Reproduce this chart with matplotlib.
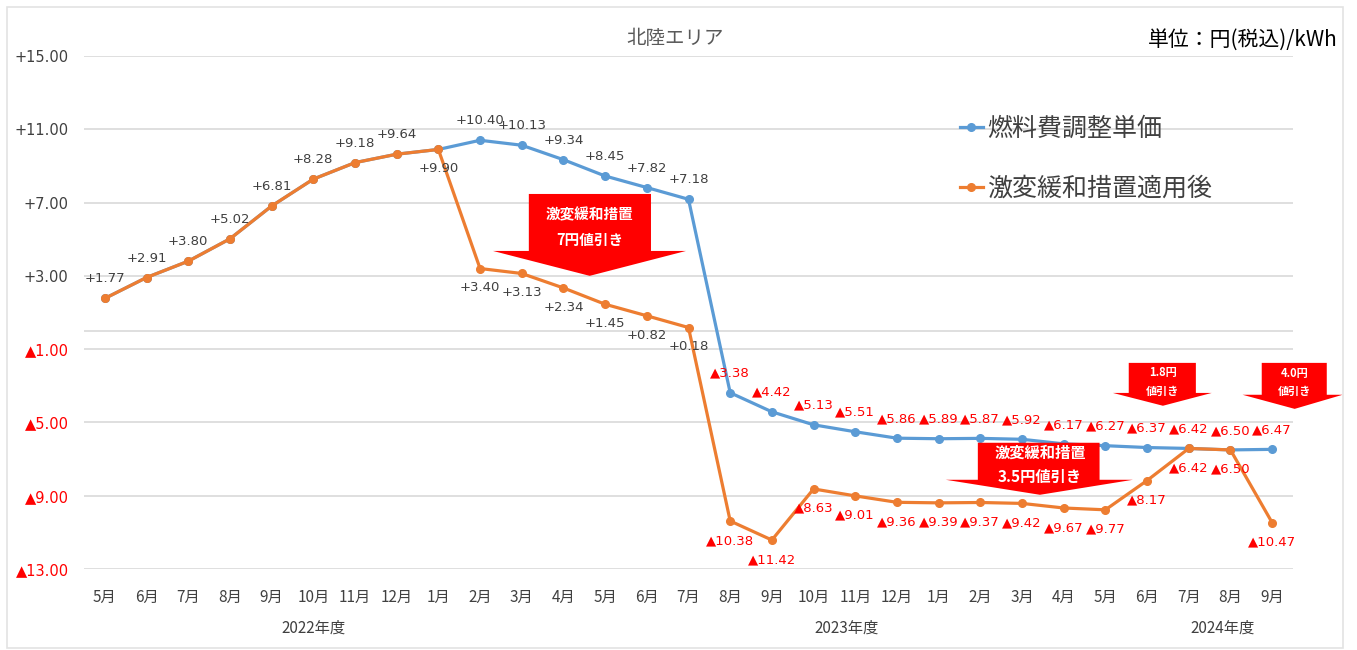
# -*- coding: utf-8 -*-

import numpy as np
import matplotlib
matplotlib.use('Agg')
import matplotlib.pyplot as plt
from matplotlib.patches import Polygon, Rectangle
from matplotlib.transforms import blended_transform_factory

plt.rcParams['font.family'] = ['Noto Sans CJK JP', 'DejaVu Sans']

# --- data --- #

months = ['5月', '6月', '7月', '8月', '9月', '10月', '11月', '12月', '1月', '2月', '3月',
          '4月', '5月', '6月', '7月', '8月', '9月', '10月', '11月', '12月', '1月', '2月', '3月',
          '4月', '5月', '6月', '7月', '8月', '9月']

fuel = [1.77, 2.91, 3.80, 5.02, 6.81, 8.28, 9.18, 9.64, 9.90, 10.40, 10.13,
        9.34, 8.45, 7.82, 7.18, -3.38, -4.42, -5.13, -5.51, -5.86, -5.89, -5.87, -5.92,
        -6.17, -6.27, -6.37, -6.42, -6.50, -6.47]

relief = [1.77, 2.91, 3.80, 5.02, 6.81, 8.28, 9.18, 9.64, 9.90, 3.40, 3.13,
          2.34, 1.45, 0.82, 0.18, -10.38, -11.42, -8.63, -9.01, -9.36, -9.39, -9.37, -9.42,
          -9.67, -9.77, -8.17, -6.42, -6.50, -10.47]

yticks = [15, 11, 7, 3, -1, -5, -9, -13]

years = ['2022年度', '2023年度', '2024年度']
year_pos = [5.0, 17.8, 26.8]

BLUE = '#5B9BD5'
ORANGE = '#ED7D31'
RED = '#FF0000'
GRAY = '#404040'
GRID = '#D9D9D9'
NUMFONT = ['DejaVu Sans']


def fmt(v):
    if v >= 0:
        return '+%.2f' % v
    return '▲%.2f' % abs(v)


def col(v):
    return GRAY if v >= 0 else RED


# --- plotting --- #

fig = plt.figure(figsize=(13.57, 6.5), dpi=100)
W, H = 1357.0, 650.0
ax = fig.add_axes([84 / W, 1 - 569 / H, (1293 - 84) / W, (569 - 56) / H])

x = np.arange(len(months))

ax.plot(x, fuel, color=BLUE, lw=2.3, marker='o', ms=5.5, label='燃料費調整単価', zorder=3)
ax.plot(x, relief, color=ORANGE, lw=2.3, marker='o', ms=5.5, label='激変緩和措置適用後', zorder=4)

# data labels
for i, v in enumerate(fuel):
    if i >= 9:
        ax.annotate(fmt(v), (i, v), xytext=(0, 14), textcoords='offset points',
                    ha='center', va='center', fontsize=9.5, color=col(v), zorder=6,
                    family=NUMFONT)
for i, v in enumerate(relief):
    dy = 14 if i < 8 else -14
    ax.annotate(fmt(v), (i, v), xytext=(0, dy), textcoords='offset points',
                ha='center', va='center', fontsize=9.5, color=col(v), zorder=6,
                family=NUMFONT)

ax.set_xlim(-0.5, len(months) - 0.5)
ax.set_ylim(-13, 15)
ax.set_yticks(yticks)
ax.set_yticklabels([fmt(t) for t in yticks], fontsize=10.5, family=NUMFONT)
for lab, t in zip(ax.get_yticklabels(), yticks):
    lab.set_color(col(t))
ax.set_xticks(x)
ax.set_xticklabels(months, fontsize=11, color=GRAY)
ax.tick_params(axis='both', length=0)
ax.tick_params(axis='y', pad=11)
ax.tick_params(axis='x', pad=14)

ax.grid(True, axis='y', color=GRID, lw=1.2)
ax.axhline(0, color=GRID, lw=1.2, zorder=1)
ax.set_axisbelow(True)
for s in ax.spines.values():
    s.set_visible(False)

# year labels
trans = blended_transform_factory(ax.transData, fig.transFigure)
for yl, xp in zip(years, year_pos):
    ax.text(xp, 1 - 628 / H, yl, transform=trans, ha='center', va='center',
            fontsize=11, color=GRAY)


# discount arrows
def red_arrow(bx0, bx1, hx0, hx1, tx, top, base, tip, lines, ty, fs):
    pts = [(bx0, top), (bx1, top), (bx1, base), (hx1, base), (tx, tip), (hx0, base), (bx0, base)]
    ax.add_patch(Polygon(pts, closed=True, facecolor=RED, edgecolor='none', zorder=5, clip_on=False))
    for txt, yy in zip(lines, ty):
        ax.text(tx, yy, txt, ha='center', va='center', color='white', fontsize=fs,
                fontweight='bold', zorder=7, clip_on=False)


red_arrow(10.17, 13.10, 9.31, 13.94, 11.63, 7.47, 4.36, 3.0,
          ['激変緩和措置', '7円値引き'], [6.33, 4.96], 10.5)
red_arrow(20.94, 23.86, 20.17, 24.66, 22.43, -6.11, -8.13, -8.95,
          ['激変緩和措置', '3.5円値引き'], [-6.66, -8.0], 11)
red_arrow(24.56, 26.17, 24.18, 26.55, 25.38, -1.75, -3.39, -4.09,
          ['1.8円', '値引き'], [-2.29, -3.33], 8)
red_arrow(27.75, 29.31, 27.29, 29.69, 28.54, -1.75, -3.49, -4.26,
          ['4.0円', '値引き'], [-2.33, -3.33], 8)

# legend
ax.legend(loc='upper left', bbox_to_anchor=(960 / W, 1 - 116 / H), bbox_transform=fig.transFigure,
          frameon=False, fontsize=18, handlelength=0.9, handletextpad=0.2,
          labelspacing=1.35, borderpad=0, borderaxespad=0, labelcolor=GRAY)

# titles
fig.text(675 / W, 1 - 38 / H, '北陸エリア', ha='center', va='center', fontsize=14, color='#595959')
fig.text(1338 / W, 1 - 40 / H, '単位：円(税込)/kWh', ha='right', va='center', fontsize=15, color='black')

# outer frame
fig.patches.append(Rectangle((7 / W, 2 / H), (1343 - 7) / W, (643 - 2) / H, transform=fig.transFigure,
                             fill=False, edgecolor='#E3E3E3', lw=1.2))

plt.savefig('out.png', dpi=100)
